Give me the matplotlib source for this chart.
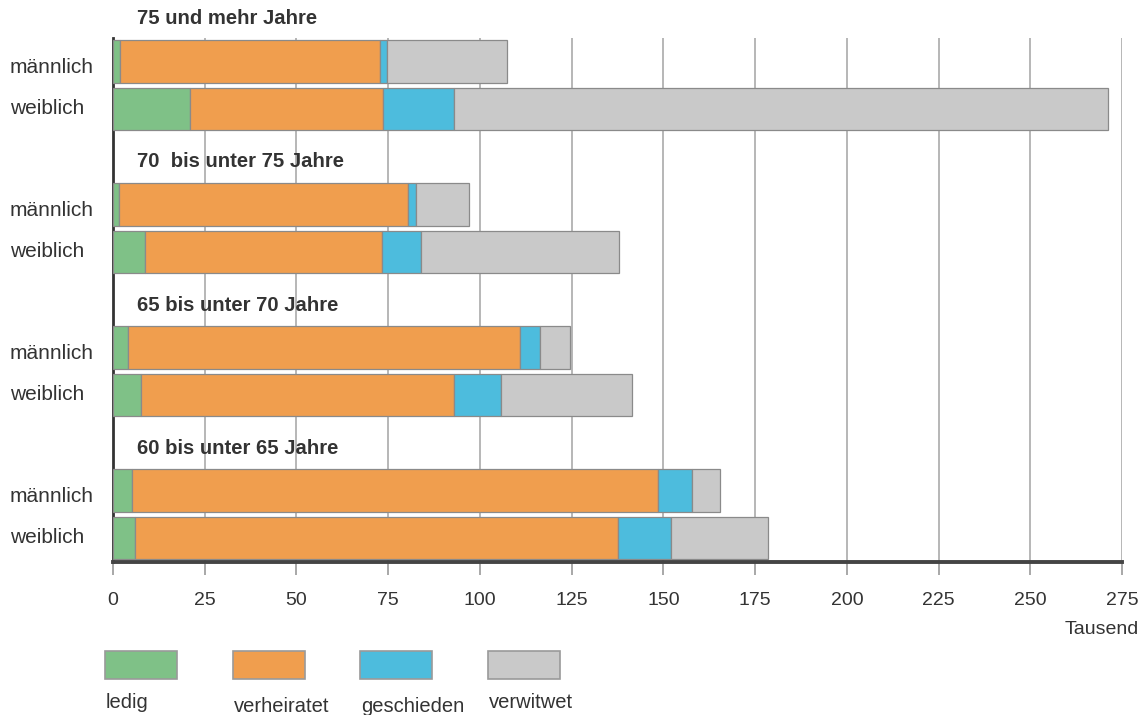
import matplotlib
matplotlib.use("Agg")
import matplotlib.pyplot as plt
from matplotlib.patches import Rectangle
from matplotlib.transforms import blended_transform_factory

plt.rcParams['font.family'] = ['Liberation Sans', 'DejaVu Sans']

# Familienstand nach Altersgruppen (Tausend)
gruppen = ["75 und mehr Jahre", "70  bis unter 75 Jahre",
           "65 bis unter 70 Jahre", "60 bis unter 65 Jahre"]
geschlecht = ["männlich", "weiblich"]
kategorien = ["ledig", "verheiratet", "geschieden", "verwitwet"]
farben = ["#7fc187", "#f09e4e", "#4dbcdd", "#c9c9c9"]

ledig_m = [1.8, 1.5, 4.0, 5.2]
ledig_w = [21.0, 8.8, 7.7, 5.9]
verheiratet_m = [70.9, 79.0, 106.8, 143.4]
verheiratet_w = [52.7, 64.4, 85.3, 131.7]
geschieden_m = [2.1, 2.2, 5.7, 9.3]
geschieden_w = [19.3, 10.8, 12.7, 14.6]
verwitwet_m = [32.6, 14.3, 8.1, 7.4]
verwitwet_w = [178.3, 54.0, 35.7, 26.3]

xticks = [0, 25, 50, 75, 100, 125, 150, 175, 200, 225, 250, 275]

werte_m = [ledig_m, verheiratet_m, geschieden_m, verwitwet_m]
werte_w = [ledig_w, verheiratet_w, geschieden_w, verwitwet_w]

W, H = 1147, 715
fig = plt.figure(figsize=(W / 100, H / 100), dpi=100)
ax = fig.add_axes([113 / W, 1 - 562 / H, (1122 - 113) / W, (562 - 38) / H])

textfarbe = "#333333"

# each group takes 3 rows: title, maennlich, weiblich
for g in range(len(gruppen)):
    y_m = 3 * g
    y_w = 3 * g + 1
    links_m = 0
    links_w = 0
    for k in range(len(kategorien)):
        ax.barh(y_m, werte_m[k][g], left=links_m, height=0.89, color=farben[k],
                edgecolor="#8a8a8a", linewidth=0.9, zorder=3)
        ax.barh(y_w, werte_w[k][g], left=links_w, height=0.89, color=farben[k],
                edgecolor="#8a8a8a", linewidth=0.9, zorder=3)
        links_m += werte_m[k][g]
        links_w += werte_w[k][g]
    ax.text(6.5, y_m - 0.89, gruppen[g], fontsize=14.6, fontweight="bold",
            color=textfarbe, va="center", ha="left", clip_on=False, zorder=4)

# labels maennlich / weiblich at the left edge of the figure
trans = blended_transform_factory(fig.transFigure, ax.transData)
for g in range(len(gruppen)):
    ax.text(10 / W, 3 * g + 0.12, geschlecht[0], transform=trans, fontsize=15,
            color=textfarbe, va="center", ha="left")
    ax.text(10 / W, 3 * g + 1 - 0.01, geschlecht[1], transform=trans, fontsize=15,
            color=textfarbe, va="center", ha="left")

ax.set_xlim(0, 275)
ax.set_ylim(10.5, -0.49)
ax.set_yticks([])
ax.set_xticks(xticks)
ax.set_xticklabels([str(t) for t in xticks], fontsize=14, color=textfarbe)
ax.tick_params(axis="x", direction="out", length=9.5, width=1.2, color="#999999", pad=12)

for t in xticks[1:]:
    ax.axvline(t, color="#aaaaaa", linewidth=1.2, zorder=1)

for s in ["top", "right"]:
    ax.spines[s].set_visible(False)
ax.spines["left"].set_color("#333333")
ax.spines["left"].set_linewidth(2)
ax.spines["bottom"].set_color("#444444")
ax.spines["bottom"].set_linewidth(2.8)
ax.spines["bottom"].set_zorder(5)

fig.text(1139 / W, 1 - 630 / H, "Tausend", fontsize=14, color=textfarbe,
         ha="right", va="center")

# legend below the chart
label_dy = [0, 3.5, 4, 0]
for i in range(len(kategorien)):
    x0 = 105 + i * 127.5
    fig.add_artist(Rectangle((x0 / W, 1 - 679 / H), 72 / W, 28 / H,
                             transform=fig.transFigure, facecolor=farben[i],
                             edgecolor="#9a9a9a", linewidth=1.2))
    fig.text((x0 + 1) / W, 1 - (703 + label_dy[i]) / H, kategorien[i],
             fontsize=14.5, color=textfarbe, ha="left", va="center")

plt.savefig("out.png", dpi=100)
